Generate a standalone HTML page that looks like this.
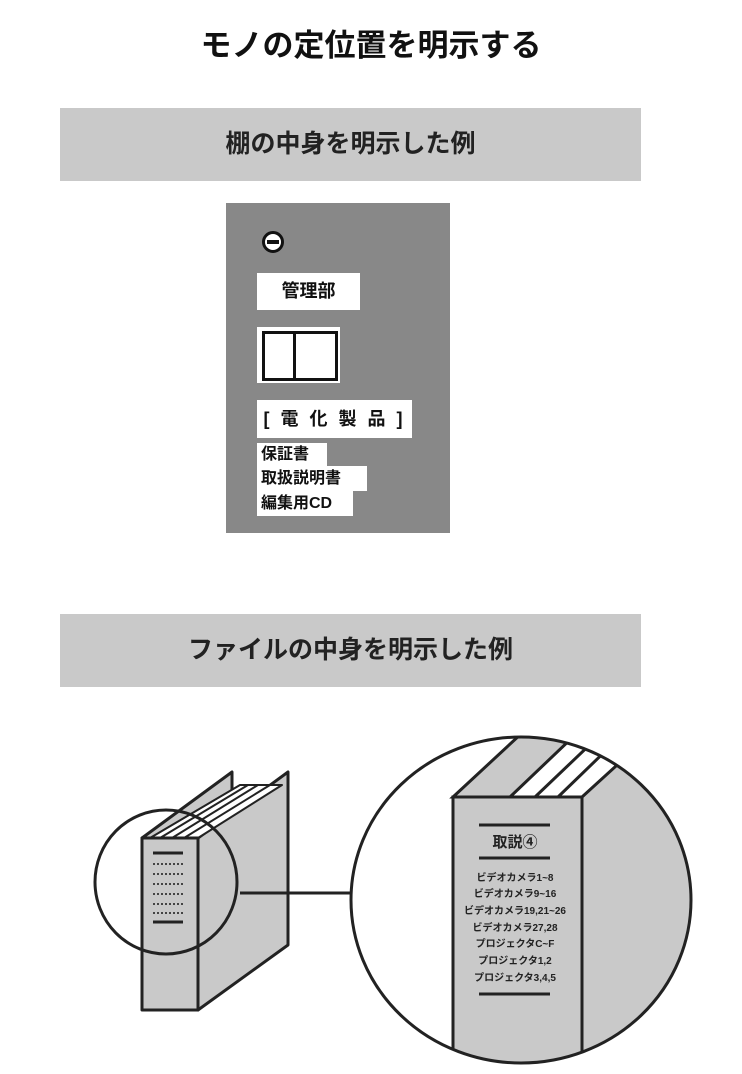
<!DOCTYPE html>
<html><head><meta charset="utf-8"><style>
body{margin:0;width:742px;height:1074px;background:#fff;position:relative;overflow:hidden;font-family:"Liberation Sans","Noto Sans CJK JP",sans-serif;}
.a{position:absolute;}
.band{position:absolute;left:60px;width:581px;height:73px;background:#c9c9c9;font-weight:bold;font-size:25px;color:#222;text-align:center;line-height:73px;}
.w{position:absolute;background:#fff;font-weight:bold;color:#111;white-space:nowrap;box-sizing:border-box;}
</style></head><body>
<div class="a" style="left:0;width:742px;top:20px;text-align:center;font-size:31px;font-weight:bold;color:#111;">モノの定位置を明示する</div>
<div class="band" style="top:108px;">棚の中身を明示した例</div>
<div class="a" style="left:226px;top:203px;width:224px;height:330px;background:#888;"></div>
<div class="a" style="left:262px;top:231px;width:16px;height:16px;border:3px solid #111;border-radius:50%;background:#fff;"></div>
<div class="a" style="left:267px;top:240px;width:12px;height:4px;background:#111;"></div>
<div class="w" style="left:257px;top:273px;width:103px;height:37px;font-size:18px;line-height:37px;text-align:center;">管理部</div>
<div class="a" style="left:257px;top:327px;width:83px;height:56px;background:#fff;"></div>
<div class="a" style="left:262px;top:331px;width:70px;height:44px;border:3px solid #111;"></div>
<div class="a" style="left:293px;top:331px;width:3px;height:50px;background:#111;"></div>
<div class="w" style="left:257px;top:400px;width:155px;height:38px;font-size:18px;line-height:38px;text-align:center;letter-spacing:3px;">[ 電 化 製 品 ]</div>
<div class="w" style="left:257px;top:443px;width:70px;height:23px;font-size:16px;line-height:23px;padding-left:4px;">保証書</div>
<div class="w" style="left:257px;top:466px;width:110px;height:25px;font-size:16px;line-height:25px;padding-left:4px;">取扱説明書</div>
<div class="w" style="left:257px;top:491px;width:96px;height:25px;font-size:16px;line-height:25px;padding-left:4px;">編集用CD</div>
<div class="band" style="top:614px;">ファイルの中身を明示した例</div>
<svg class="a" style="left:0;top:0" width="742" height="1074">
<defs><clipPath id="c"><ellipse cx="521" cy="900" rx="170" ry="163"/></clipPath></defs>
<g stroke="#222" stroke-width="3" stroke-linejoin="round">
<polygon points="198,838 288,772 288,945 198,1010" fill="#c9c9c9"/>
<polygon points="142,838 232,772 232,790 198,838" fill="#c9c9c9"/>
<polygon points="150,838 240,785 282,785 198,838" fill="#fff" stroke-width="2"/>
<line x1="160" y1="838" x2="248" y2="785" stroke-width="2"/>
<line x1="172" y1="838" x2="258" y2="785" stroke-width="2"/>
<line x1="184" y1="838" x2="270" y2="785" stroke-width="2"/>
<rect x="142" y="838" width="56" height="172" fill="#c9c9c9"/>
</g>
<g stroke="#222" stroke-width="3"><line x1="153" y1="853" x2="183" y2="853"/><line x1="153" y1="922" x2="183" y2="922"/></g>
<g stroke="#444" stroke-width="2" stroke-dasharray="2,2"><line x1="153" y1="864" x2="183" y2="864"/><line x1="153" y1="874" x2="183" y2="874"/><line x1="153" y1="884" x2="183" y2="884"/><line x1="153" y1="894" x2="183" y2="894"/><line x1="153" y1="904" x2="183" y2="904"/><line x1="153" y1="913" x2="183" y2="913"/></g>
<ellipse cx="166" cy="882" rx="71" ry="72" fill="none" stroke="#222" stroke-width="3"/>
<line x1="240" y1="893" x2="351" y2="893" stroke="#222" stroke-width="3"/>
<g clip-path="url(#c)" stroke="#222" stroke-width="3">
<rect x="582" y="700" width="200" height="400" fill="#c9c9c9"/>
<polygon points="453,797 536,720 660,720 582,797" fill="#c9c9c9"/>
<polygon points="510,797 575,735 650,735 582,797" fill="#fff"/>
<line x1="535" y1="797" x2="600" y2="735"/><line x1="558" y1="797" x2="622" y2="735"/>
<rect x="453" y="797" width="129" height="300" fill="#c9c9c9"/>
</g>
<ellipse cx="521" cy="900" rx="170" ry="163" fill="none" stroke="#222" stroke-width="3"/>
<g stroke="#222" stroke-width="3"><line x1="479" y1="825" x2="550" y2="825"/><line x1="479" y1="858" x2="550" y2="858"/><line x1="479" y1="994" x2="550" y2="994"/></g>
<g font-family="Liberation Sans,Noto Sans CJK JP,sans-serif" font-weight="bold" fill="#222" text-anchor="middle">
<text x="515" y="847" font-size="15">取説④</text>
<g font-size="10"><text x="515" y="881">ビデオカメラ1~8</text><text x="515" y="897">ビデオカメラ9~16</text><text x="515" y="914">ビデオカメラ19,21~26</text><text x="515" y="931">ビデオカメラ27,28</text><text x="515" y="947">プロジェクタC~F</text><text x="515" y="964">プロジェクタ1,2</text><text x="515" y="981">プロジェクタ3,4,5</text></g>
</g>
</svg>
</body></html>
